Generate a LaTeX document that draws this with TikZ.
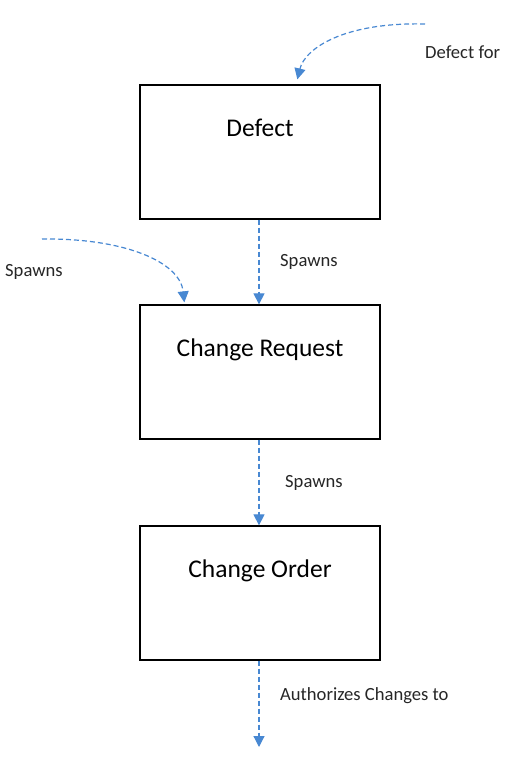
\documentclass[tikz,border=0pt]{standalone}
\usepackage{fontspec}
\setmainfont{Carlito}
\usetikzlibrary{arrows.meta,calc}
\definecolor{linkblue}{RGB}{72,136,210}
\begin{document}
\begin{tikzpicture}[x=1pt,y=-1pt,
  entity/.style={draw=black,line width=1.3pt,minimum width=240pt,inner sep=0pt,
    text height=51pt,text depth=83pt,font=\fontsize{25.5}{28}\selectfont},
  link/.style={draw=linkblue,line width=1.2pt,dash pattern=on 5pt off 3pt,
    -{Triangle[width=11pt,length=11pt]}},
  lbl/.style={anchor=west,inner sep=0pt,font=\fontsize{18.6}{21}\selectfont,text=black!85}]
\useasboundingbox (0,0) rectangle (505,757);
\node[entity] (defect) at (260,152) {Defect};
\node[entity] (cr) at (260,372) {Change Request};
\node[entity] (co) at (260,593) {Change Order};
\coordinate (topstart) at (425,24);
\coordinate (leftstart) at (42,239);
\coordinate (bottomend) at (259,747);
\draw[link] (topstart) .. controls (345,22) and (305,48) .. ([xshift=158pt,yshift=5pt]defect.north west);
\draw[link] (leftstart) .. controls (125,238) and (180,262) .. ([xshift=45pt,yshift=2pt]cr.north west);
\draw[link] ([xshift=-1pt]defect.south) -- ([xshift=-1pt]cr.north);
\draw[link] ([xshift=-1pt]cr.south) -- ([xshift=-1pt]co.north);
\draw[link] ([xshift=-1pt]co.south) -- (bottomend);
\node[lbl] (l1) at (425,52) {Defect for};
\node[lbl] (l2) at (5,272) {Spawns};
\node[lbl] (l3) at (280,262) {Spawns};
\node[lbl] (l4) at (285,483) {Spawns};
\node[lbl] (l5) at (280,696) {Authorizes Changes to};
\end{tikzpicture}
\end{document}
